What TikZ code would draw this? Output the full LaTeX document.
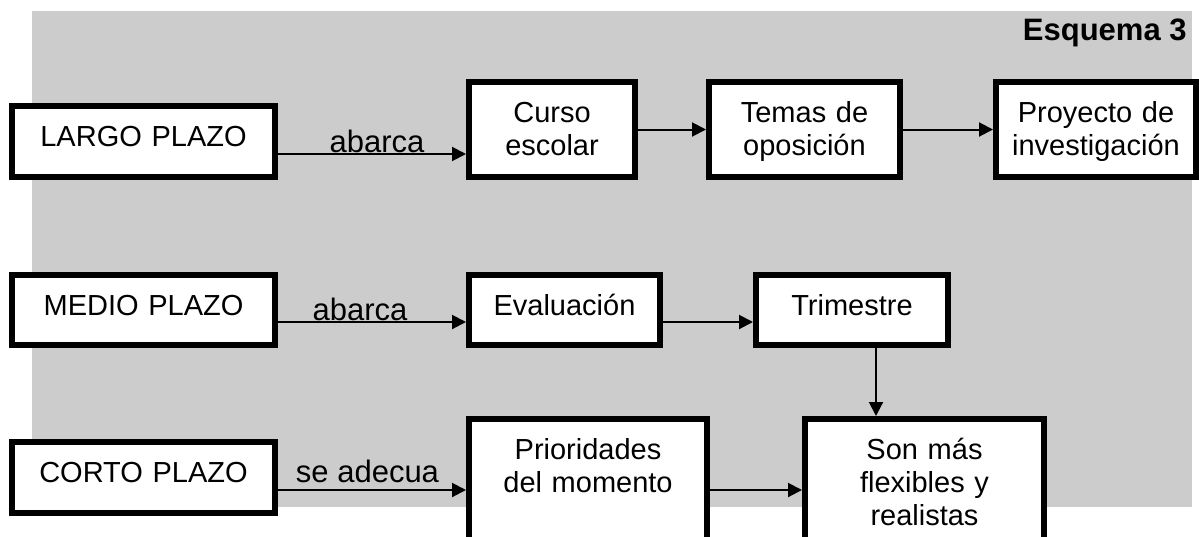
\documentclass[tikz,border=0pt]{standalone}
\usepackage{fontspec}
\setmainfont{Liberation Sans}
\usetikzlibrary{arrows.meta}
\definecolor{fondo}{gray}{0.8}
\tikzset{
  caja/.style={draw, line width=3pt, fill=white, inner sep=0pt, align=center,
    font=\fontsize{14.5}{16.5}\selectfont, text height=20pt},
  flecha/.style={-{Triangle[length=7pt,width=7pt]}, line width=1pt},
  etiqueta/.style={anchor=base, inner sep=0pt, font=\fontsize{15.5}{18}\selectfont}
}
\begin{document}
\begin{tikzpicture}[x=0.5pt,y=-0.5pt]
\useasboundingbox (0,0) rectangle (1199,536);
\clip (0,0) rectangle (1199,536);
\fill[fondo] (32,11) rectangle (1192,507);

\node[anchor=base east, inner sep=0pt, font=\fontsize{15.5}{18}\selectfont\bfseries] (titulo) at (1187,40) {Esquema 3};

\node[caja, text width=131.5pt, text depth=15.5pt] (largo) at (143.5,141.5) {LARGO PLAZO};
\node[caja, text width=131.5pt, text depth=15pt] (medio) at (143.5,310) {MEDIO PLAZO};
\node[caja, text width=131.5pt, text depth=15.5pt] (corto) at (143.5,477.5) {CORTO PLAZO};

\node[caja, text width=83pt, text depth=27.5pt] (curso) at (552,129.5) {Curso\\escolar};
\node[caja, text width=95.5pt, text depth=27.5pt] (temas) at (804.5,129.5) {Temas de\\oposición};
\node[caja, text width=100pt, text depth=27.5pt] (proyecto) at (1096,129.5) {Proyecto de\\investigación};

\node[caja, text width=95.5pt, text depth=15pt] (evaluacion) at (564.5,310) {Evaluación};
\node[caja, text width=96pt, text depth=15pt] (trimestre) at (852,310) {Trimestre};

\node[caja, text width=119pt, text depth=42.5pt] (prioridades) at (588,481.5) {Prioridades\\del momento};
\node[caja, text width=119.5pt, text depth=42.5pt] (son) at (924.5,481.5) {Son más\\flexibles y\\realistas};

\coordinate (a1) at ([yshift=-6.25pt]largo.east);
\draw[flecha] (a1) -- (a1 -| curso.west);
\draw[flecha] (curso) -- (temas);
\draw[flecha] (temas) -- (proyecto);

\coordinate (b1) at ([yshift=-6pt]medio.east);
\draw[flecha] (b1) -- (b1 -| evaluacion.west);
\coordinate (b2) at ([yshift=-6pt]evaluacion.east);
\draw[flecha] (b2) -- (b2 -| trimestre.west);
\coordinate (b3) at ([xshift=12pt]trimestre.south);
\draw[flecha] (b3) -- (b3 |- son.north);

\coordinate (c1) at ([yshift=-6.25pt]corto.east);
\draw[flecha] (c1) -- (c1 -| prioridades.west);
\coordinate (c2) at ([yshift=-4.25pt]prioridades.east);
\draw[flecha] (c2) -- (c2 -| son.west);

\node[etiqueta] (abarca1) at (377,152) {abarca};
\node[etiqueta] (abarca2) at (360,320) {abarca};
\node[etiqueta] (adecua) at (367.5,482) {se adecua};
\end{tikzpicture}
\end{document}
